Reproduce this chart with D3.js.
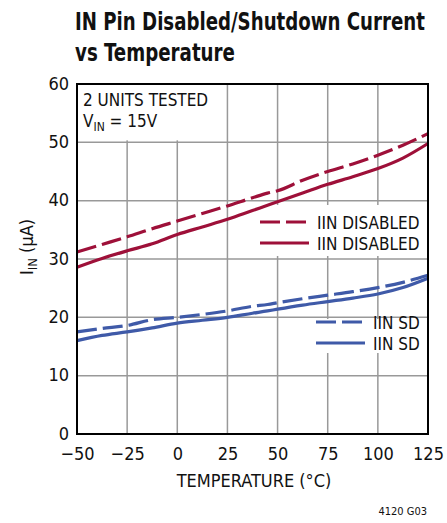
<!DOCTYPE html>
<html>
<head>
<meta charset="utf-8">
<script src="https://cdn.jsdelivr.net/npm/d3@7"></script>
<style>
  body { margin: 0; background: #fff; }
  svg text { font-family: "DejaVu Sans Condensed", "Liberation Sans Narrow", sans-serif; fill: #111; }
</style>
</head>
<body>
<svg id="chart"></svg>
<script>
// temperatures (°C) and currents (µA)
const temps = [-50, -37.5, -25, -12.5, 0, 12.5, 25, 37.5, 45, 50, 62.5, 75, 87.5, 100, 112.5, 125];
const disabledA = [31.2, 32.5, 33.8, 35.2, 36.5, 37.8, 39.1, 40.5, 41.3, 41.7, 43.5, 45.0, 46.3, 47.8, 49.5, 51.5];
const disabledB = [28.6, 30.1, 31.4, 32.6, 34.2, 35.5, 36.8, 38.3, 39.2, 39.8, 41.3, 42.8, 44.1, 45.5, 47.3, 49.8];
const sdA = [17.5, 18.1, 18.6, 19.6, 20.0, 20.5, 21.1, 21.9, 22.2, 22.5, 23.2, 23.8, 24.4, 25.1, 26.0, 27.2];
const sdB = [16.0, 16.9, 17.5, 18.2, 19.0, 19.5, 20.0, 20.7, 21.1, 21.4, 22.1, 22.7, 23.3, 24.0, 25.1, 26.7];
const xTicks = [-50, -25, 0, 25, 50, 75, 100, 125];
const yTicks = [0, 10, 20, 30, 40, 50, 60];

const red = "#9e1039", blue = "#3f5aa8";
const series = [
    { vals: disabledA, color: red, dash: "20,6" },
    { vals: disabledB, color: red, dash: null },
    { vals: sdA, color: blue, dash: "20,6" },
    { vals: sdB, color: blue, dash: null }
];

const width = 447, height = 523;
const svg = d3.select("#chart").attr("width", width).attr("height", height);

const x = d3.scaleLinear().domain([-50, 125]).range([77, 428]);
const y = d3.scaleLinear().domain([0, 60]).range([434, 84]);

// title, squeezed horizontally to the condensed width of the original
function titleLine(txt, ty, w) {
    const t = svg.append("text").attr("x", 0).attr("y", 0)
        .style("font-size", "25px").style("font-weight", "bold").text(txt);
    const k = w / t.node().getComputedTextLength();
    t.attr("transform", `translate(75,${ty}) scale(${k},1)`);
}
titleLine("IN Pin Disabled/Shutdown Current", 30, 350);
titleLine("vs Temperature", 61, 160);

// grid
svg.append("g").selectAll("line").data(xTicks.slice(1, -1)).enter().append("line")
    .attr("x1", d => x(d)).attr("x2", d => x(d))
    .attr("y1", y(60)).attr("y2", y(0))
    .attr("stroke", "#999").attr("stroke-width", 1.5);
svg.append("g").selectAll("line").data(yTicks.slice(1, -1)).enter().append("line")
    .attr("x1", x(-50)).attr("x2", x(125))
    .attr("y1", d => y(d)).attr("y2", d => y(d))
    .attr("stroke", "#999").attr("stroke-width", 1.5);

// boxes hiding grid under the notes
svg.append("rect").attr("x", x(-50) + 1).attr("y", y(60) + 1)
    .attr("width", 135).attr("height", y(50) - y(60) - 3).attr("fill", "#fff");
svg.append("rect").attr("x", 255).attr("y", 205)
    .attr("width", 168).attr("height", 51).attr("fill", "#fff");
svg.append("rect").attr("x", 310).attr("y", 319)
    .attr("width", 113).attr("height", 34).attr("fill", "#fff");

// curves
const line = d3.line().x((d, i) => x(temps[i])).y(d => y(d)).curve(d3.curveMonotoneX);
series.forEach(s => {
    svg.append("path").attr("d", line(s.vals))
        .attr("fill", "none").attr("stroke", s.color).attr("stroke-width", 3.2)
        .attr("stroke-dasharray", s.dash);
});

// frame
svg.append("rect").attr("x", x(-50)).attr("y", y(60))
    .attr("width", x(125) - x(-50)).attr("height", y(0) - y(60))
    .attr("fill", "none").attr("stroke", "#000").attr("stroke-width", 2);

// axes
const xAxis = svg.append("g").attr("transform", `translate(0,${y(0)})`)
    .call(d3.axisBottom(x).tickValues(xTicks).tickSize(0).tickPadding(13));
const yAxis = svg.append("g").attr("transform", `translate(${x(-50)},0)`)
    .call(d3.axisLeft(y).tickValues(yTicks).tickSize(0).tickPadding(8));
[xAxis, yAxis].forEach(a => {
    a.select(".domain").remove();
    a.selectAll("text").style("font-size", "18px").attr("fill", "#111")
        .style("font-family", "'DejaVu Sans Condensed', 'Liberation Sans Narrow', sans-serif");
});
yAxis.selectAll("text").attr("dy", "0.28em");

svg.append("text").attr("x", 254).attr("y", 487).attr("text-anchor", "middle")
    .style("font-size", "18px").text("TEMPERATURE (°C)");

const yl = svg.append("text").attr("transform", "translate(33,247) rotate(-90)")
    .attr("text-anchor", "middle").style("font-size", "18px");
yl.append("tspan").text("I");
yl.append("tspan").attr("dy", 4).style("font-size", "13px").text("IN");
yl.append("tspan").attr("dy", -4).text(" (µA)");

// notes
svg.append("text").attr("x", 83).attr("y", 106).style("font-size", "17px").text("2 UNITS TESTED");
const vin = svg.append("text").attr("x", 83).attr("y", 127).style("font-size", "17px");
vin.append("tspan").text("V");
vin.append("tspan").attr("dy", 4).style("font-size", "12px").text("IN");
vin.append("tspan").attr("dy", -4).text(" = 15V");

// legends
const legend = [
    { color: red, dash: "20,6", label: "IIN DISABLED", x1: 260, ly: 222 },
    { color: red, dash: null, label: "IIN DISABLED", x1: 260, ly: 243 },
    { color: blue, dash: "20,6", label: "IIN SD", x1: 316, ly: 322 },
    { color: blue, dash: null, label: "IIN SD", x1: 316, ly: 343 }
];
legend.forEach(l => {
    svg.append("line").attr("x1", l.x1).attr("x2", l.x1 + 49)
        .attr("y1", l.ly).attr("y2", l.ly)
        .attr("stroke", l.color).attr("stroke-width", 3.2).attr("stroke-dasharray", l.dash);
    svg.append("text").attr("x", l.x1 + 57).attr("y", l.ly + 7)
        .style("font-size", "17px").text(l.label);
});

svg.append("text").attr("x", 427).attr("y", 515).attr("text-anchor", "end")
    .style("font-size", "11px").text("4120 G03");
</script>
</body>
</html>
